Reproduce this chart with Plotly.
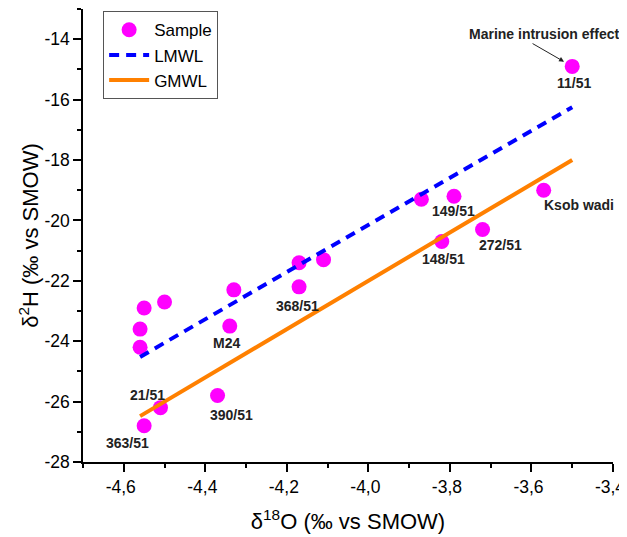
import plotly.graph_objects as go

# Sample data: delta18O, delta2H
sample_o18 = [-3.50, -3.57, -3.72, -3.82, -3.79, -3.87, -4.11, -4.17, -4.17,
              -4.33, -4.34, -4.50, -4.55, -4.56, -4.56, -4.37, -4.51, -4.55]
sample_h2 = [-14.9, -19.0, -20.3, -20.7, -19.2, -19.3, -21.3, -21.4, -22.2,
             -22.3, -23.5, -22.7, -22.9, -23.6, -24.2, -25.8, -26.2, -26.8]

# Meteoric water lines (endpoints)
lmwl_x = [-4.56, -3.50]
lmwl_y = [-24.52, -16.25]
gmwl_x = [-4.56, -3.50]
gmwl_y = [-26.48, -18.00]

# Sample labels and their anchor positions
label_text = ["11/51", "Ksob wadi", "149/51", "272/51", "148/51", "368/51",
              "M24", "21/51", "390/51", "363/51"]
label_x = [-3.496, -3.483, -3.792, -3.675, -3.816, -4.173, -4.347, -4.543, -4.336, -4.592]
label_y = [-15.45, -19.49, -19.69, -20.81, -21.29, -22.83, -24.07, -25.78, -26.44, -27.38]

x_tickvals = [-4.6, -4.4, -4.2, -4.0, -3.8, -3.6, -3.4]
x_ticktext = ["-4,6", "-4,4", "-4,2", "-4,0", "-3,8", "-3,6", "-3,4"]
x_minor = [-4.7, -4.5, -4.3, -4.1, -3.9, -3.7, -3.5]
y_tickvals = [-28, -26, -24, -22, -20, -18, -16, -14]
y_ticktext = ["-28", "-26", "-24", "-22", "-20", "-18", "-16", "-14"]
y_minor = [-27, -25, -23, -21, -19, -17, -15, -13]

FONT = "Liberation Sans, Arial, sans-serif"

fig = go.Figure()
fig.add_trace(go.Scatter(x=sample_o18, y=sample_h2, mode="markers", name="Sample",
                         marker=dict(color="#FF00FF", size=15, line=dict(width=0))))
fig.add_trace(go.Scatter(x=lmwl_x, y=lmwl_y, mode="lines", name="LMWL",
                         line=dict(color="#0000FF", width=4, dash="10px,7px")))
fig.add_trace(go.Scatter(x=gmwl_x, y=gmwl_y, mode="lines", name="GMWL",
                         line=dict(color="#FF8000", width=4)))

for t, x, y in zip(label_text, label_x, label_y):
    fig.add_annotation(x=x, y=y, text="<b>" + t + "</b>", showarrow=False,
                       font=dict(family=FONT, size=14, color="#222"))

fig.add_annotation(x=-3.569, y=-13.83, text="<b>Marine intrusion effect</b>", showarrow=False,
                   font=dict(family=FONT, size=14, color="#222"))
fig.add_annotation(x=-3.520, y=-14.745, text="", showarrow=True, ax=-33, ay=-19,
                   arrowhead=2, arrowsize=1, arrowwidth=1, arrowcolor="#222", standoff=0)

axis_common = dict(showline=True, linecolor="black", linewidth=1.5, mirror=False,
                   ticks="outside", ticklen=8, tickwidth=1.5, tickcolor="black",
                   showgrid=False, zeroline=False, automargin=False,
                   ticklabeloverflow="allow",
                   tickfont=dict(family=FONT, size=17.5, color="black"))

fig.update_xaxes(range=[-4.7, -3.4], tickmode="array", tickvals=x_tickvals, ticktext=x_ticktext,
                 ticklabelshift=-3,
                 minor=dict(tickmode="array", tickvals=x_minor, ticks="outside", ticklen=4,
                            tickwidth=1.5, tickcolor="black"),
                 title=dict(text="δ<sup>18</sup>O (‰ vs SMOW)", font=dict(family=FONT, size=22, color="black"),
                            standoff=18),
                 **axis_common)
fig.update_yaxes(range=[-28, -13], tickmode="array", tickvals=y_tickvals, ticktext=y_ticktext,
                 minor=dict(tickmode="array", tickvals=y_minor, ticks="outside", ticklen=4,
                            tickwidth=1.5, tickcolor="black"),
                 title=dict(text="δ<sup>2</sup>H (‰ vs SMOW)", font=dict(family=FONT, size=22, color="black"),
                            standoff=0),
                 **axis_common)

# The page body adds an 8px offset; the figure is sized to fit the window.
fig.update_layout(
    width=619, height=529,
    margin=dict(l=75, r=14, t=1, b=75),
    plot_bgcolor="white", paper_bgcolor="white",
    showlegend=True,
    legend=dict(x=0.038, y=0.995, xanchor="left", yanchor="top",
                bordercolor="#555", borderwidth=1, bgcolor="white",
                font=dict(family=FONT, size=17, color="black"),
                tracegroupgap=0, itemwidth=40),
)

fig.write_html("out.html")
